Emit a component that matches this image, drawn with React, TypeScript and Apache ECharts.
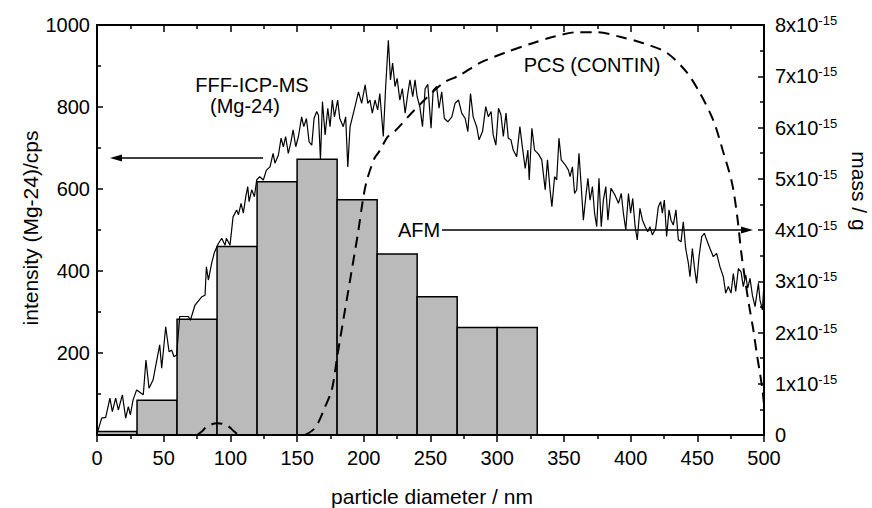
import React, { useEffect, useRef } from "react";
import * as echarts from "echarts";

// AFM histogram: bin edges (nm) and mass (x10^-15 g)
const afmEdges = [0, 30, 60, 90, 120, 150, 180, 210, 240, 270, 300, 330];
const afmMass = [0.07, 0.68, 2.26, 3.68, 4.94, 5.38, 4.59, 3.53, 2.7, 2.1, 2.1];

// PCS (CONTIN) dashed curve, mass axis (x10^-15 g)
const pcsDiameter = [75, 79, 82, 86, 90, 94, 98, 102, 106, null, 156, 162, 166, 170, 176, 180, 185, 191, 196, 199, 202, 208, 212, 218, 223, 238, 259, 272, 287, 307, 327, 342, 360, 375, 392, 409, 427, 442, 452, 462, 469, 476, 480, 483, 486, 489, 492, 494.5, 497, 499, 500];
const pcsMass = [0, 0.08, 0.16, 0.21, 0.23, 0.22, 0.18, 0.09, 0, null, 0, 0.1, 0.25, 0.49, 0.88, 1.52, 2.3, 3.22, 4.0, 4.53, 4.94, 5.4, 5.55, 5.82, 5.92, 6.34, 6.86, 7.02, 7.26, 7.47, 7.65, 7.77, 7.86, 7.86, 7.77, 7.65, 7.46, 7.08, 6.67, 6.14, 5.56, 4.92, 4.25, 3.55, 3.0, 2.5, 2.05, 1.6, 1.2, 0.85, 0.6];

// FFF-ICP-MS (Mg-24) intensity, cps
const icpDiameter = [0.5, 3.5, 6.5, 9.7, 11.5, 14, 16, 19, 21.5, 23.5, 25, 27, 29.7, 34.7, 36.7, 39, 42, 47, 48.5, 51.5, 54, 56, 57.7, 59.7, 62, 68.5, 70, 73.5, 78.5, 81, 82, 83.5, 86, 88, 91, 93.5, 96, 97, 99.7, 102, 104.7, 106, 108, 109.7, 111.5, 113, 114, 116, 118, 119.7, 122, 124.7, 127, 129.7, 132, 133.4, 136, 138, 139.7, 141.4, 143.4, 145.4, 147, 149, 151, 153.4, 155, 157, 159, 161, 162.7, 164.7, 166, 167.5, 169, 171, 173, 174.7, 176.4, 178, 180.4, 182, 184.6, 186.4, 188, 189.7, 193.4, 196, 198.4, 201, 203, 204.6, 206.4, 208.4, 210.4, 212, 214.6, 216.4, 218.4, 220, 221.6, 223.4, 225, 227, 228.9, 231, 233, 234.6, 236.7, 238.4, 240, 242, 244, 246, 248, 250.4, 252, 254.6, 256.4, 258.4, 260.4, 263, 266, 268.4, 271, 273.4, 276, 278, 280, 282, 284.6, 286.4, 289, 291.4, 293.4, 295.4, 297, 299, 301, 302.8, 304.6, 306.6, 308.3, 310.3, 312, 314.6, 317, 319, 321, 323, 324, 326, 328, 331, 333.4, 336, 337.7, 339.6, 341, 343, 344.6, 346.3, 348, 351, 353.4, 354.6, 356.4, 358, 359.6, 361.3, 363, 364.6, 366.4, 368, 369.6, 371.4, 373, 374.6, 376.3, 378, 379.6, 381.4, 383, 385.3, 388.3, 390.9, 393, 394.6, 396.4, 398.4, 400, 401.6, 403.4, 405, 407, 408.9, 411, 412.8, 414.5, 416.3, 418.8, 420.8, 422.5, 423.8, 425.3, 427, 428.8, 430.3, 432, 434, 435.8, 437.8, 439.5, 441.3, 443.3, 444.5, 446.3, 447.8, 449.5, 451.3, 453.3, 455.3, 457, 459.5, 462, 464.5, 467, 469.5, 471.3, 473.3, 475.3, 477, 478.8, 480.8, 482.8, 484.5, 486.3, 487.8, 489.5, 491.3, 493.3, 495.8, 497, 498.8, 500];
const icpIntensity = [8, 41, 43, 90, 57, 90, 61, 98, 41, 69, 49, 85, 110, 98, 183, 114, 134, 220, 163, 264, 203, 207, 191, 195, 289, 289, 280, 317, 337, 341, 410, 378, 420, 445, 467, 480, 463, 480, 463, 532, 549, 537, 565, 541, 581, 606, 569, 598, 581, 622, 630, 622, 646, 654, 687, 663, 683, 724, 703, 728, 687, 715, 744, 703, 728, 776, 752, 772, 715, 707, 772, 789, 780, 672, 813, 732, 797, 752, 817, 776, 817, 772, 752, 776, 654, 752, 801, 837, 809, 854, 809, 817, 785, 817, 793, 833, 728, 850, 963, 866, 907, 850, 870, 817, 845, 785, 833, 866, 825, 866, 825, 801, 752, 845, 855, 748, 841, 850, 797, 837, 772, 764, 776, 809, 817, 785, 772, 740, 833, 776, 752, 720, 740, 801, 776, 789, 732, 707, 797, 781, 728, 785, 724, 720, 695, 679, 752, 699, 650, 695, 622, 748, 695, 685, 671, 598, 671, 598, 557, 630, 622, 724, 671, 659, 646, 630, 654, 589, 598, 687, 606, 524, 581, 626, 573, 606, 541, 508, 626, 508, 573, 606, 524, 602, 585, 565, 589, 541, 500, 589, 541, 577, 508, 476, 553, 524, 508, 496, 508, 488, 504, 557, 569, 541, 573, 484, 549, 524, 512, 549, 476, 471, 520, 455, 419, 386, 455, 410, 370, 435, 484, 492, 476, 455, 435, 443, 410, 386, 346, 362, 346, 394, 350, 406, 398, 362, 390, 358, 382, 341, 313, 370, 329, 305, 370];

const FONT = '"Liberation Sans", Arial, Helvetica, sans-serif';

// plot frame (px)
const G_LEFT = 97;
const G_TOP = 25;
const G_RIGHT = 108;
const G_BOTTOM = 73;
const W = 872;
const H = 508;

export default function App() {
  const ref = useRef<HTMLDivElement>(null);

  useEffect(() => {
    if (!ref.current) return;
    const chart = echarts.init(ref.current, null, { renderer: "svg" });

    const barData = afmMass.map((v, i) => [afmEdges[i], afmEdges[i + 1], v]);
    const pcsData = pcsDiameter.map((x, i) => (x === null ? [null, null] : [x, pcsMass[i]]));
    const icpData = icpDiameter.map((x, i) => [x, icpIntensity[i]]);

    const mkLine = () => ({ show: true, onZero: false, lineStyle: { color: "#000", width: 2 } });
    const mkTick = (inside: boolean, length: number) => ({ show: true, inside, length, lineStyle: { color: "#000", width: 1.5 } });
    const mkMinor = () => ({ show: true, splitNumber: 2, length: 4, lineStyle: { color: "#000", width: 1.5 } });

    chart.setOption({
      animation: false,
      backgroundColor: "#fff",
      grid: { left: G_LEFT, right: G_RIGHT, top: G_TOP, bottom: G_BOTTOM, containLabel: false },
      xAxis: [
        {
          type: "value",
          position: "bottom",
          min: 0,
          max: 500,
          interval: 50,
          axisLine: mkLine(),
          axisTick: mkTick(false, 7),
          minorTick: mkMinor(),
          axisLabel: { color: "#000", fontSize: 20, fontFamily: FONT, margin: 13 },
          splitLine: { show: false },
        },
        {
          type: "value",
          position: "top",
          min: 0,
          max: 500,
          interval: 50,
          axisLine: mkLine(),
          axisTick: mkTick(true, 7),
          minorTick: mkMinor(),
          axisLabel: { show: false },
          splitLine: { show: false },
        },
      ],
      yAxis: [
        {
          type: "value",
          position: "left",
          min: 0,
          max: 1000,
          interval: 200,
          axisLine: mkLine(),
          axisTick: mkTick(true, 6),
          minorTick: mkMinor(),
          axisLabel: {
            color: "#000",
            fontSize: 20,
            fontFamily: FONT,
            margin: 7,
            formatter: (v: number) => (v === 0 ? "" : String(v)),
          },
          splitLine: { show: false },
        },
        {
          type: "value",
          position: "right",
          min: 0,
          max: 8,
          interval: 1,
          axisLine: mkLine(),
          axisTick: mkTick(true, 6),
          minorTick: mkMinor(),
          axisLabel: {
            color: "#000",
            fontSize: 20,
            fontFamily: FONT,
            margin: 11,
            formatter: (v: number) => (v === 0 ? "{b|0}" : `{b|${v}x10}{s|-15}`),
            rich: {
              b: { fontSize: 20, fontFamily: FONT, color: "#000" },
              s: { fontSize: 13, fontFamily: FONT, color: "#000", verticalAlign: "bottom", padding: [0, 0, 9, 0] },
            },
          },
          splitLine: { show: false },
        },
      ],
      series: [
        {
          type: "custom",
          xAxisIndex: 0,
          yAxisIndex: 1,
          z: 1,
          encode: { x: [0, 1], y: 2 },
          data: barData,
          renderItem: (params: any, api: any) => {
            const x0 = api.value(0);
            const x1 = api.value(1);
            const y = api.value(2);
            const p0 = api.coord([x0, 0]);
            const p1 = api.coord([x1, y]);
            return {
              type: "rect",
              shape: { x: p0[0], y: p1[1], width: p1[0] - p0[0], height: p0[1] - p1[1] },
              style: { fill: "#bababa", stroke: "#000", lineWidth: 1.5 },
            };
          },
        },
        {
          type: "line",
          name: "PCS (CONTIN)",
          xAxisIndex: 0,
          yAxisIndex: 1,
          z: 3,
          data: pcsData,
          showSymbol: false,
          symbol: "none",
          smooth: 0.3,
          connectNulls: false,
          lineStyle: { color: "#000", width: 2, type: [11, 7] },
        },
        {
          type: "line",
          name: "FFF-ICP-MS",
          xAxisIndex: 0,
          yAxisIndex: 0,
          z: 4,
          data: icpData,
          showSymbol: false,
          symbol: "none",
          lineStyle: { color: "#000", width: 1.2 },
        },
      ],
      graphic: [
        {
          type: "rect",
          z: 100,
          silent: true,
          shape: { x: G_LEFT, y: G_TOP, width: W - G_LEFT - G_RIGHT, height: H - G_TOP - G_BOTTOM },
          style: { fill: "none", stroke: "#000", lineWidth: 2 },
        },
        { type: "text", x: 432, y: 496, style: { text: "particle diameter / nm", font: `21px ${FONT}`, fill: "#000", textAlign: "center", textVerticalAlign: "middle" } },
        { type: "text", x: 30, y: 228, rotation: Math.PI / 2, style: { text: "intensity (Mg-24)/cps", font: `21px ${FONT}`, fill: "#000", textAlign: "center", textVerticalAlign: "middle" } },
        { type: "text", x: 859, y: 191, rotation: -Math.PI / 2, style: { text: "mass / g", font: `21px ${FONT}`, fill: "#000", textAlign: "center", textVerticalAlign: "middle" } },
        { type: "text", x: 252, y: 85, style: { text: "FFF-ICP-MS", font: `20px ${FONT}`, fill: "#000", textAlign: "center", textVerticalAlign: "middle" } },
        { type: "text", x: 245, y: 106, style: { text: "(Mg-24)", font: `20px ${FONT}`, fill: "#000", textAlign: "center", textVerticalAlign: "middle" } },
        { type: "text", x: 592, y: 65, style: { text: "PCS (CONTIN)", font: `20px ${FONT}`, fill: "#000", textAlign: "center", textVerticalAlign: "middle" } },
        { type: "text", x: 419, y: 230, style: { text: "AFM", font: `20px ${FONT}`, fill: "#000", textAlign: "center", textVerticalAlign: "middle" } },
        { type: "line", shape: { x1: 263, y1: 158, x2: 118, y2: 158 }, style: { stroke: "#000", lineWidth: 1.3 }, z: 10 },
        { type: "polygon", shape: { points: [[110, 158], [122, 154.5], [122, 161.5]] }, style: { fill: "#000" }, z: 10 },
        { type: "line", shape: { x1: 442, y1: 230, x2: 745, y2: 230 }, style: { stroke: "#000", lineWidth: 1.3 }, z: 10 },
        { type: "polygon", shape: { points: [[753, 230], [741, 226.5], [741, 233.5]] }, style: { fill: "#000" }, z: 10 },
      ],
    });

    return () => chart.dispose();
  }, []);

  return <div ref={ref} style={{ position: "fixed", left: 0, top: 0, width: W, height: H }} />;
}
